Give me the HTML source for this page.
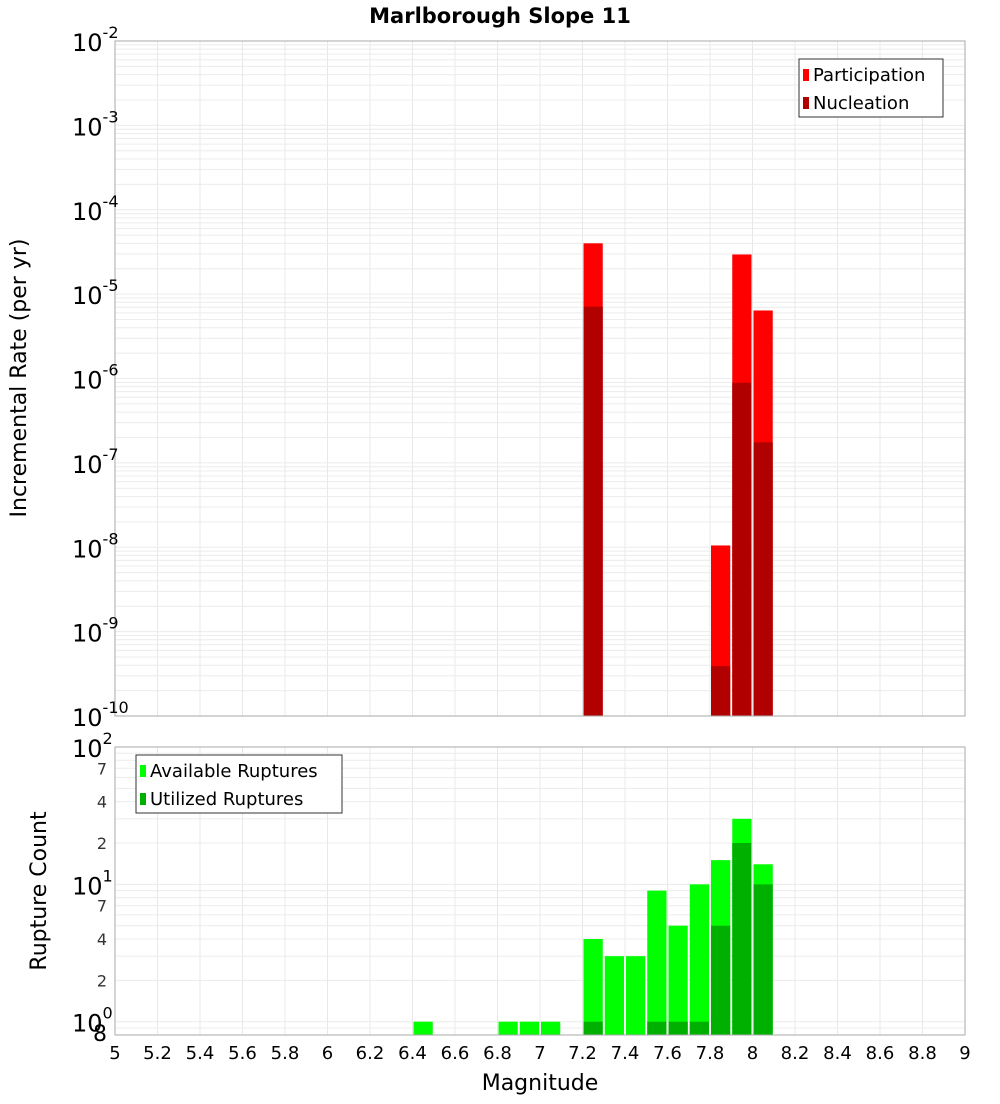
<!DOCTYPE html>
<html><head><meta charset="utf-8"><style>
body{margin:0;background:#fff;width:1000px;height:1100px;overflow:hidden;font-family:"DejaVu Sans","Liberation Sans",sans-serif}
</style></head><body>
<svg id="c" width="1000" height="1100" xmlns="http://www.w3.org/2000/svg" font-family="DejaVu Sans, Liberation Sans, sans-serif"></svg>
<script>
const binCenters=[6.45,6.85,6.95,7.05,7.25,7.35,7.45,7.55,7.65,7.75,7.85,7.95,8.05];
const rateMags=[7.25,7.85,7.95,8.05];
const participation=[4.0e-5,1.05e-8,2.95e-5,6.4e-6];
const nucleation=[7.1e-6,3.9e-10,8.9e-7,1.75e-7];
const available=[1,1,1,1,4,3,3,9,5,10,15,30,14];
const utilized=[0,0,0,0,1,0,0,1,1,1,5,20,10];
const xTicks=[5,5.2,5.4,5.6,5.8,6,6.2,6.4,6.6,6.8,7,7.2,7.4,7.6,7.8,8,8.2,8.4,8.6,8.8,9];
const topExps=[-2,-3,-4,-5,-6,-7,-8,-9,-10];

const svg=document.getElementById('c');const NS='http://www.w3.org/2000/svg';
function el(t,a,txt,p){const e=document.createElementNS(NS,t);for(const k in a)e.setAttribute(k,a[k]);if(txt!==undefined&&txt!==null)e.textContent=txt;(p||svg).appendChild(e);return e;}
const X0=115,X1=965;
const xs=m=>X0+(m-5)/4*(X1-X0);
const T0=41,T1=716;const ty=v=>T0+(-2-Math.log10(v))/8*(T1-T0);
const B0=747,B1=1035;const BMIN=0.8,BMAX=100;
const by=v=>B0+(Math.log10(BMAX)-Math.log10(v))/(Math.log10(BMAX)-Math.log10(BMIN))*(B1-B0);

let t=el('text',{x:500,y:23,'text-anchor':'middle','font-size':21,'font-weight':'bold'},'Marlborough Slope 11');



function grid(yTop,yBot,yFn,ylo,yhi){
  const g=el('g',{});
  
  
  xTicks.forEach(m=>el('line',{x1:xs(m),x2:xs(m),y1:yTop,y2:yBot,stroke:'#e8e8e8'},null,g));
  for(let e=ylo;e<yhi;e++)for(let k=1;k<10;k++){const v=k*Math.pow(10,e);const y=yFn(v);if(y>=yTop&&y<=yBot)el('line',{x1:X0,x2:X1,y1:y,y2:y,stroke:'#ececec'},null,g);}
}
grid(T0,T1,ty,-10,-2);
grid(B0,B1,by,-1,2);

// top bars
rateMags.forEach((m,i)=>{
  const x=xs(m-0.05)+1,w=xs(m+0.05)-xs(m-0.05)-2;
  let r=el('rect',{x:x,y:ty(participation[i]),width:w,height:T1-ty(participation[i]),fill:'#ff0000'});
  
  
  let n=el('rect',{x:x,y:ty(nucleation[i]),width:w,height:T1-ty(nucleation[i]),fill:'#b00000'});
  
  
});
// bottom bars
binCenters.forEach((m,i)=>{
  const x=xs(m-0.05)+1,w=xs(m+0.05)-xs(m-0.05)-2;
  if(available[i]>0){let r=el('rect',{x:x,y:by(available[i]),width:w,height:B1-by(available[i]),fill:'#00ff00'});
  
  }
  if(utilized[i]>0){let n=el('rect',{x:x,y:by(utilized[i]),width:w,height:B1-by(utilized[i]),fill:'#00b000'});
  
  }
});
let f1=el('rect',{x:X0,y:T0,width:X1-X0,height:T1-T0,fill:'none',stroke:'#aaa'});


let f2=el('rect',{x:X0,y:B0,width:X1-X0,height:B1-B0,fill:'none',stroke:'#aaa'});



// top y labels
topExps.forEach(e=>{
  const y=ty(Math.pow(10,e));
  let g=el('text',{x:72,y:y+10,'font-size':24});
  
  
  g.textContent='10';
  el('tspan',{dy:-13,'font-size':16},String(e),g);
});
// bottom y labels
[[100,'2'],[10,'1'],[1,'0']].forEach(([v,s])=>{
  const y=by(v);
  let g=el('text',{x:72,y:y+10,'font-size':24});
  
  
  g.textContent='10';
  el('tspan',{dy:-13,'font-size':16},s,g);
});
[70,40,20,7,4,2,0.8].forEach(v=>{
  const lab=String(v>=10?v/10:(v<1?v*10:v));
  let g=el('text',{x:107,y:by(v)+6,'text-anchor':'end','font-size':v<1?22:16,fill:v<1?'#000':'#333'},lab);
  
  
});
// x labels
xTicks.forEach(m=>{
  let g=el('text',{x:xs(m),y:1059,'text-anchor':'middle','font-size':18},String(m));
  
  
});
let xt=el('text',{x:540,y:1090,'text-anchor':'middle','font-size':22},'Magnitude');


let yt1=el('text',{x:26,y:378,'text-anchor':'middle','font-size':22,transform:'rotate(-90 26 378)'},'Incremental Rate (per yr)');


let yt2=el('text',{x:46,y:891,'text-anchor':'middle','font-size':22,transform:'rotate(-90 46 891)'},'Rupture Count');



// legends
function legend(x,y,w,items,name){
  const g=el('g',{});
  
  
  el('rect',{x:x,y:y,width:w,height:58,fill:'#fff',stroke:'#333'},null,g);
  items.forEach(([c,l],i)=>{
    el('rect',{x:x+4,y:y+10+i*28,width:6,height:12,fill:c},null,g);
    el('text',{x:x+14,y:y+22+i*28,'font-size':18},l,g);
  });
}
legend(799,59,144,[['#ff0000','Participation'],['#b00000','Nucleation']],'top-legend');
legend(136,755,206,[['#00ff00','Available Ruptures'],['#00b000','Utilized Ruptures']],'bottom-legend');
</script>
</body></html>
